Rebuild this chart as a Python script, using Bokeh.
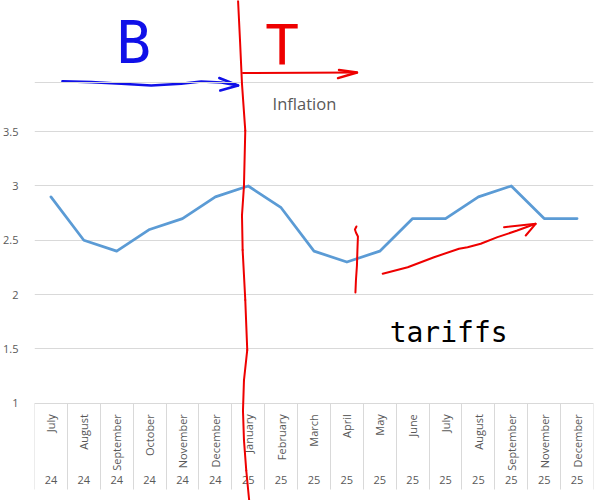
from math import pi
from bokeh.plotting import figure
from bokeh.models import Range1d, LinearAxis, FixedTicker, Span, Arrow, ColumnDataSource, NumeralTickFormatter
from bokeh.core.properties import value
from bokeh.embed import file_html
from bokeh.resources import INLINE

# ---- chart data ----
months = ["July", "August", "September", "October", "November", "December",
          "January", "February", "March", "April", "May", "June", "July",
          "August", "September", "November", "December"]
years = ["24", "24", "24", "24", "24", "24",
         "25", "25", "25", "25", "25", "25", "25", "25", "25", "25", "25"]
inflation = [2.9, 2.5, 2.4, 2.6, 2.7, 2.9, 3.0, 2.8, 2.4, 2.3, 2.4, 2.7, 2.7, 2.9, 3.0, 2.7, 2.7]
y_ticks = [1, 1.5, 2, 2.5, 3, 3.5]
title_text = "Inflation"

# ---- hand-drawn annotations (in data units: category index, value) ----
red_div_x = [5.69, 5.75, 5.81, 5.91, 5.87, 5.81, 5.83, 5.91, 5.97, 5.87, 5.84, 5.87, 5.94, 6.03]
red_div_y = [4.71, 4.34, 3.94, 3.51, 3.00, 2.73, 2.41, 1.95, 1.49, 1.21, 0.93, 0.66, 0.38, 0.10]
blue_arrow_x = [0.35, 1.23, 2.14, 3.05, 3.96, 4.57, 5.18, 5.69]
blue_arrow_y = [3.965, 3.956, 3.941, 3.925, 3.941, 3.962, 3.953, 3.925]
blue_head_x = [5.12, 5.69, 5.15]
blue_head_y = [3.994, 3.925, 3.879]
red_h_x = [5.84, 9.31]
red_h_y = [4.04, 4.045]
red_h_head_x = [8.76, 9.31, 8.73]
red_h_head_y = [4.068, 4.045, 3.994]
red_tick_x = [9.29, 9.245, 9.275, 9.336, 9.32, 9.306, 9.275, 9.26]
red_tick_y = [2.627, 2.599, 2.572, 2.535, 2.406, 2.268, 2.130, 2.019]
red_rise_x = [10.09, 10.85, 11.65, 12.41, 12.67, 13.07, 13.58, 14.18, 14.74]
red_rise_y = [2.192, 2.252, 2.344, 2.422, 2.436, 2.468, 2.529, 2.590, 2.652]
red_rise_head_x = [13.78, 14.74, 14.44]
red_rise_head_y = [2.621, 2.652, 2.544]
sheet_line_y = 3.953

x = list(range(len(months)))
GRAY = "#595959"
GRID = "#d9d9d9"
BLUE = "#1010e8"
RED = "#ee0000"
HAND_FONT = "DejaVu Sans Mono"

p = figure(width=598, height=500, x_range=Range1d(-0.5, len(months) - 0.5),
           y_range=Range1d(0.104, 4.708), x_axis_type=None,
           toolbar_location=None, output_backend="svg",
           min_border_left=33, min_border_right=5, min_border_top=0, min_border_bottom=0)
p.outline_line_color = None
p.background_fill_color = "white"
p.border_fill_color = "white"

# y axis
p.yaxis.ticker = FixedTicker(ticks=y_ticks)
p.yaxis.formatter = NumeralTickFormatter(format="0.[0]")
p.yaxis.axis_line_color = None
p.yaxis.major_tick_line_color = None
p.yaxis.minor_tick_line_color = None
p.yaxis.major_label_text_font = "Open Sans"
p.yaxis.major_label_text_font_size = "11px"
p.yaxis.major_label_text_color = GRAY
p.yaxis.major_label_standoff = 10
p.ygrid.grid_line_color = GRID

# spreadsheet line near the top
p.add_layout(Span(location=sheet_line_y, dimension="width", line_color=GRID, line_width=1))

# month axis (drawn at value 1)
ax_m = LinearAxis(ticker=FixedTicker(ticks=x, minor_ticks=[]),
                  major_label_overrides={i: m for i, m in enumerate(months)},
                  major_label_orientation=pi / 2, fixed_location=1)
ax_m.axis_line_color = GRID
ax_m.major_tick_line_color = None
ax_m.minor_tick_line_color = None
ax_m.major_label_text_font = "Open Sans"
ax_m.major_label_text_font_size = "11px"
ax_m.major_label_text_color = GRAY
ax_m.major_label_standoff = 5
p.add_layout(ax_m, "below")

# year axis with column separators (drawn at value 1)
ax_y = LinearAxis(ticker=FixedTicker(ticks=x, minor_ticks=[i - 0.5 for i in range(len(months) + 1)]),
                  major_label_overrides={i: yv for i, yv in enumerate(years)}, fixed_location=1)
ax_y.axis_line_color = None
ax_y.major_tick_line_color = None
ax_y.minor_tick_line_color = GRID
ax_y.minor_tick_in = 0
ax_y.minor_tick_out = 86
ax_y.major_label_text_font = "Open Sans"
ax_y.major_label_text_font_size = "11px"
ax_y.major_label_text_color = GRAY
ax_y.major_label_standoff = -13
p.add_layout(ax_y, "below")

# data line
p.line(x, inflation, line_color="#5B9BD5", line_width=2.75, line_join="round", line_cap="round")

# title
p.text(x=[7.71], y=[3.755], text=[title_text], text_align="center", text_baseline="middle",
       text_font=value("Open Sans"), text_font_size="16.5px", text_color=GRAY)

# handwritten notes
p.line(blue_arrow_x, blue_arrow_y, line_color=BLUE, line_width=2.6, line_cap="round", line_join="round")
p.line(blue_head_x, blue_head_y, line_color=BLUE, line_width=2.6, line_cap="round", line_join="round")
p.text(x=[2.52], y=[4.317], text=["B"], text_align="center", text_baseline="middle",
       text_font=value(HAND_FONT), text_font_size="58px", text_color=BLUE)

p.line(red_h_x, red_h_y, line_color=RED, line_width=2, line_cap="round")
p.line(red_h_head_x, red_h_head_y, line_color=RED, line_width=2.4, line_cap="round", line_join="round")
p.text(x=[7.03], y=[4.30], text=["T"], text_align="center", text_baseline="middle",
       text_font=value(HAND_FONT), text_font_size="56px", text_color=RED)
p.line(red_tick_x, red_tick_y, line_color=RED, line_width=2, line_cap="round", line_join="round")
p.line(red_rise_x, red_rise_y, line_color=RED, line_width=2, line_cap="round", line_join="round")
p.line(red_rise_head_x, red_rise_head_y, line_color=RED, line_width=2, line_cap="round", line_join="round")
p.text(x=[10.30], y=[1.65], text=["tariffs"], text_align="left", text_baseline="middle",
       text_font=value("DejaVu Sans Mono"), text_font_size="28px", text_color="black")

# red divider line crossing the whole chart
div_src = ColumnDataSource(dict(x0=red_div_x[:-1], y0=red_div_y[:-1], x1=red_div_x[1:], y1=red_div_y[1:]))
p.add_layout(Arrow(end=None, x_start="x0", y_start="y0", x_end="x1", y_end="y1", source=div_src,
                   line_color=RED, line_width=2, line_cap="round"))

open("out.html", "w").write(file_html(p, INLINE))
